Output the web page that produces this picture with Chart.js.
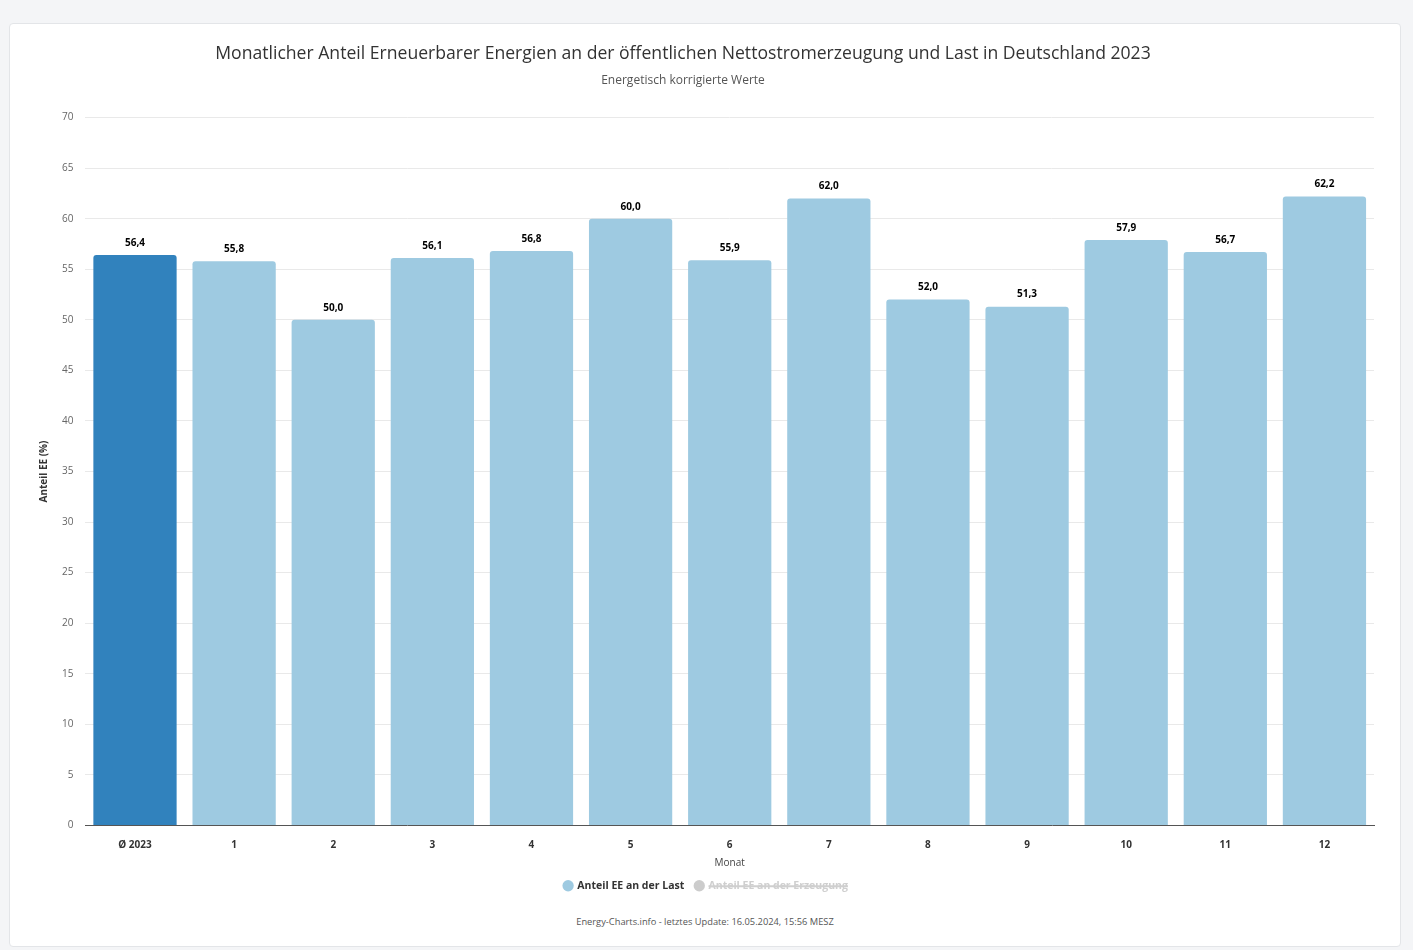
<!DOCTYPE html>
<html lang="de">
<head>
<meta charset="utf-8">
<title>Anteil Erneuerbarer Energien 2023</title>
<script src="https://cdn.jsdelivr.net/npm/chart.js@4.4.1/dist/chart.umd.min.js"></script>
<style>
  html, body { margin: 0; padding: 0; background: #f4f5f7; font-family: "Open Sans", sans-serif; }
  .card {
    position: absolute; left: 9px; top: 23px; width: 1390px; height: 922px;
    background: #fff; border: 1px solid #e3e5e8; border-radius: 4px;
  }
  .chart-wrap { position: absolute; left: 0; top: 0; width: 1390px; height: 880px; }
  .credits {
    position: absolute; left: 0; right: 0; top: 891px; text-align: center;
    font-size: 9.3px; color: #555;
  }
</style>
</head>
<body>
<div class="card">
  <div class="chart-wrap"><canvas id="chart"></canvas></div>
  <div class="credits">Energy-Charts.info - letztes Update: 16.05.2024, 15:56 MESZ</div>
</div>
<script>
const categories = ['Ø 2023', '1', '2', '3', '4', '5', '6', '7', '8', '9', '10', '11', '12'];
const shareOfLoad = [56.4, 55.8, 50.0, 56.1, 56.8, 60.0, 55.9, 62.0, 52.0, 51.3, 57.9, 56.7, 62.2];
// second series is switched off in the legend, nothing of it is plotted
const shareOfGeneration = [];

const avgColor = '#3182bd';
const monthColor = '#9ecae1';

const fmt = v => v.toFixed(1).replace('.', ',');

// value labels above the bars
const valueLabels = {
  id: 'valueLabels',
  afterDatasetsDraw(chart) {
    const ctx = chart.ctx;
    ctx.save();
    ctx.font = 'bold 10px "Open Sans", sans-serif';
    ctx.fillStyle = '#000';
    ctx.textAlign = 'center';
    ctx.textBaseline = 'bottom';
    chart.data.datasets.forEach((ds, i) => {
      if (!chart.isDatasetVisible(i)) return;
      chart.getDatasetMeta(i).data.forEach((bar, j) => {
        ctx.fillText(fmt(ds.data[j]), bar.x, bar.y - 7);
      });
    });
    ctx.restore();
  }
};

// heading sits a bit left of the card centre
const headingShift = {
  id: 'headingShift',
  afterLayout(chart) {
    chart.boxes.forEach(box => {
      if (box.position === 'top') {
        box.left -= 23;
        box.right -= 23;
      }
    });
  }
};

new Chart(document.getElementById('chart'), {
  type: 'bar',
  data: {
    labels: categories,
    datasets: [{
      label: 'Anteil EE an der Last',
      data: shareOfLoad,
      backgroundColor: shareOfLoad.map((_, i) => i === 0 ? avgColor : monthColor),
      borderRadius: 3,
      borderSkipped: 'bottom',
      barPercentage: 0.84,
      categoryPercentage: 1
    }, {
      label: 'Anteil EE an der Erzeugung',
      data: shareOfGeneration,
      backgroundColor: '#cccccc',
      hidden: true
    }]
  },
  plugins: [valueLabels, headingShift],
  options: {
    responsive: true,
    maintainAspectRatio: false,
    animation: false,
    layout: { padding: { left: 28, right: 26, top: 10, bottom: 3 } },
    plugins: {
      title: {
        display: true,
        text: 'Monatlicher Anteil Erneuerbarer Energien an der öffentlichen Nettostromerzeugung und Last in Deutschland 2023',
        color: '#333',
        font: { family: '"Open Sans", sans-serif', size: 17.6, weight: 'normal' },
        padding: { top: 9, bottom: 9 }
      },
      subtitle: {
        display: true,
        text: 'Energetisch korrigierte Werte',
        color: '#555',
        font: { family: '"Open Sans", sans-serif', size: 12 },
        padding: { bottom: 30 }
      },
      legend: {
        position: 'bottom',
        labels: {
          usePointStyle: true,
          pointStyle: 'circle',
          boxWidth: 8,
          boxHeight: 8,
          padding: 11,
          font: { family: '"Open Sans", sans-serif', size: 10.5, weight: 'bold' },
          generateLabels(chart) {
            return chart.data.datasets.map((ds, i) => {
              const hidden = !chart.isDatasetVisible(i);
              return {
                text: ds.label,
                datasetIndex: i,
                hidden: hidden,
                fillStyle: hidden ? '#cccccc' : monthColor,
                strokeStyle: hidden ? '#cccccc' : monthColor,
                fontColor: hidden ? '#cfcfcf' : '#333',
                lineWidth: 0,
                pointStyle: 'circle'
              };
            });
          }
        }
      },
      tooltip: { enabled: false }
    },
    scales: {
      x: {
        grid: { display: false, drawTicks: false },
        border: { color: '#555', width: 1 },
        ticks: {
          color: '#333',
          padding: 14,
          font: { family: '"Open Sans", sans-serif', size: 10, weight: 'bold' }
        },
        title: {
          display: true,
          text: 'Monat',
          color: '#444',
          font: { family: '"Open Sans", sans-serif', size: 10 },
          padding: { top: -8, bottom: 0 }
        }
      },
      y: {
        min: 0,
        max: 70,
        grid: { color: '#e9e9e9', drawTicks: false },
        border: { display: false },
        ticks: {
          stepSize: 5,
          color: '#666',
          padding: 12,
          font: { family: '"Open Sans", sans-serif', size: 10 }
        },
        title: {
          display: true,
          text: 'Anteil EE (%)',
          color: '#333',
          font: { family: '"Open Sans", sans-serif', size: 10, weight: 'bold' },
          padding: { top: 0, bottom: 0 }
        }
      }
    }
  }
});
</script>
</body>
</html>
